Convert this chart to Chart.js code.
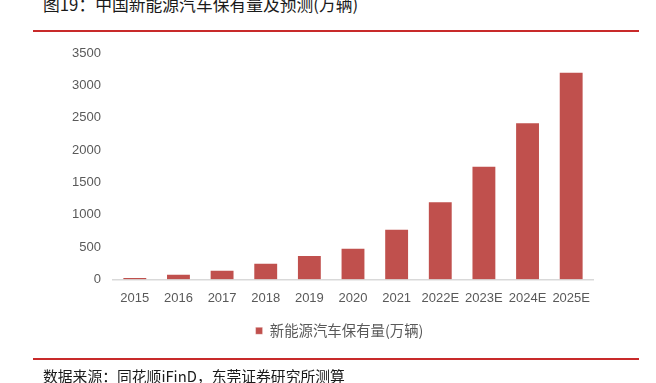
<!DOCTYPE html>
<html>
<head>
<meta charset="utf-8">
<script src="https://cdn.jsdelivr.net/npm/chart.js@4.4.1/dist/chart.umd.min.js"></script>
<style>
  html, body { margin:0; padding:0; background:#fff; }
  body { width:656px; height:383px; position:relative; overflow:hidden; }
  .title { position:absolute; left:43px; top:-8px; font:16.8px "Noto Sans CJK SC", sans-serif; color:#1a1a1a; white-space:nowrap; }
  .rule { position:absolute; left:33px; width:606px; height:2px; background:#c82a2a; }
  .source { position:absolute; left:43px; top:365px; font:14.8px "Noto Sans CJK SC", sans-serif; color:#1a1a1a; white-space:nowrap; }
  #wrap { position:absolute; left:0; top:0; width:656px; height:383px; }
</style>
</head>
<body>
<div class="title">图19：中国新能源汽车保有量及预测(万辆)</div>
<div class="rule" style="top:30px"></div>
<div id="wrap"><canvas id="c"></canvas></div>
<div class="rule" style="top:358px"></div>
<div class="source">数据来源：同花顺iFinD，东莞证券研究所测算</div>
<script>
'use strict';

/* ---- data (万辆) ---- */
const years = ['2015','2016','2017','2018','2019','2020','2021','2022E','2023E','2024E','2025E'];
const stock = [42, 91, 153, 261, 381, 492, 784, 1210, 1760, 2430, 3210];
const seriesName = '新能源汽车保有量(万辆)';
const yTicks = [0, 500, 1000, 1500, 2000, 2500, 3000, 3500];

const BAR = '#c0504d';
const TICK = '#595959';
const LEGEND_SHIFT = 43;   // legend sits right of the page centre in the original

/* nudge the legend box sideways after layout (draw uses left/right) */
const shiftLegend = {
  id: 'shiftLegend',
  afterLayout(chart) {
    const lg = chart.legend; if (!lg) return;
    lg.left += LEGEND_SHIFT; lg.right += LEGEND_SHIFT;
  }
};

new Chart(document.getElementById('c'), {
  type: 'bar',
  data: {
    labels: years,
    datasets: [{ label: seriesName, data: stock, backgroundColor: BAR,
      borderColor: 'rgba(255,255,255,.35)', borderWidth: 1,
      categoryPercentage: 1, barPercentage: 0.57 }]
  },
  options: {
    responsive: true, maintainAspectRatio: false, animation: false,
    layout: { padding: { left: 0, right: 63, top: 53, bottom: 35 } },
    scales: {
      x: {
        grid: { display: false, drawTicks: false },
        border: { display: true, color: '#d9d9d9', width: 1.5 },
        ticks: { color: TICK, font: { family: 'Liberation Sans, Arial, sans-serif', size: 13 }, padding: 11, maxRotation: 0, autoSkip: false },
        afterFit: (s) => { s.height = 38; }
      },
      y: {
        min: 0, max: 3500,
        grid: { display: false, drawTicks: false },
        border: { display: false },
        afterBuildTicks: (s) => { s.ticks = yTicks.map(v => ({ value: v })); },
        ticks: { color: TICK, font: { family: 'Liberation Sans, Arial, sans-serif', size: 13 }, padding: 12,
          callback: (v) => String(v) },
        afterFit: (s) => { s.width = 113; }
      }
    },
    plugins: {
      legend: {
        position: 'bottom',
        labels: { color: TICK, boxWidth: 7, boxHeight: 7, padding: 6,
          font: { family: '"Noto Sans CJK SC", sans-serif', size: 14.4 } }
      },
      tooltip: { enabled: false }
    }
  },
  plugins: [shiftLegend]
});
</script>
</body>
</html>
